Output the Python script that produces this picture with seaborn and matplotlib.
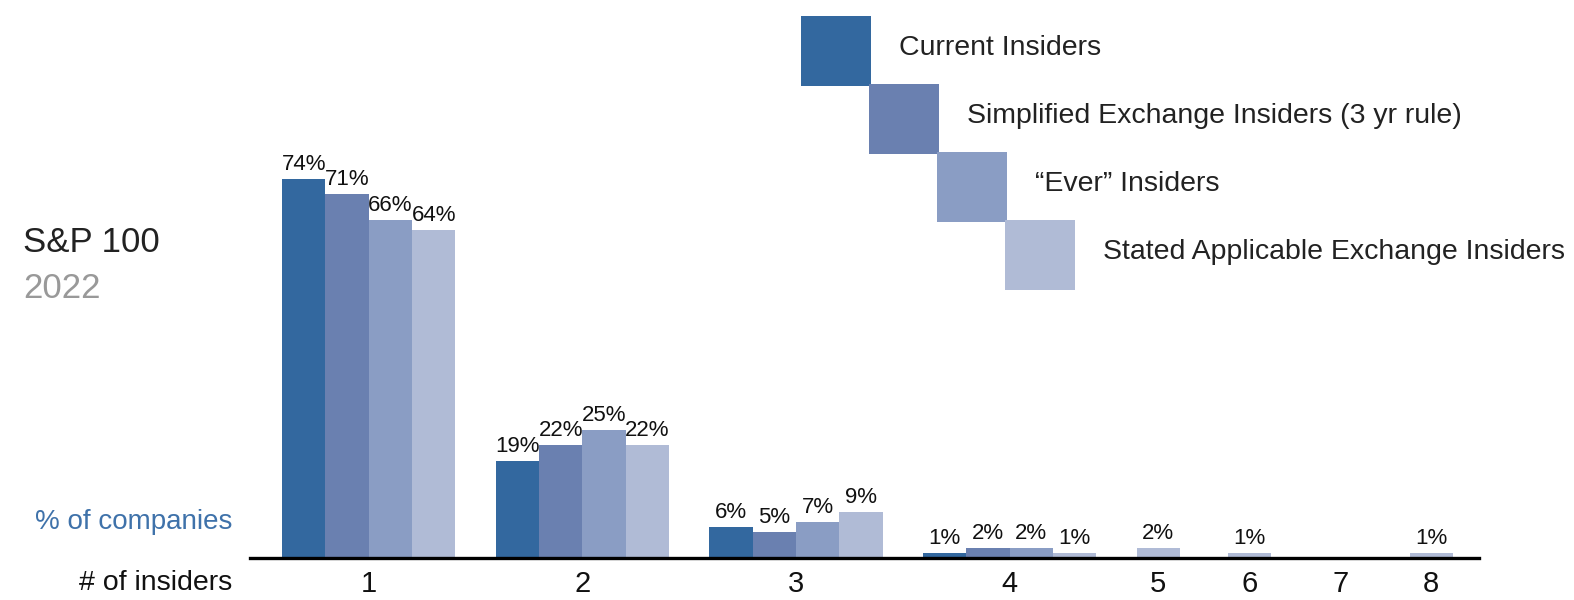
import matplotlib
matplotlib.use("Agg")
import matplotlib.pyplot as plt
from matplotlib.patches import Rectangle
import seaborn as sns
import pandas as pd

# data (% of companies)
groups = ["1", "2", "3", "4", "5", "6", "7", "8"]
series = ["Current Insiders",
          "Simplified Exchange Insiders (3 yr rule)",
          "\u201cEver\u201d Insiders",
          "Stated Applicable Exchange Insiders"]
current = [74, 19, 6, 1, 0, 0, 0, 0]
simplified = [71, 22, 5, 2, 0, 0, 0, 0]
ever = [66, 25, 7, 2, 0, 0, 0, 0]
stated = [64, 22, 9, 1, 2, 1, 0, 1]
colors = ["#33689f", "#6a80b0", "#8a9dc4", "#b0bbd6"]

sns.set_style("white")
plt.rcParams["font.family"] = ["Liberation Sans", "DejaVu Sans"]

# layout: groups with several series get 4 slots, the rest get one slot
rows = []
centers = []
cursor = 0.0
for i, g in enumerate(groups):
    vals = [current[i], simplified[i], ever[i], stated[i]]
    wide = sum(v > 0 for v in vals) > 1
    if wide:
        for k, v in enumerate(vals):
            rows.append({"pos": cursor + k, "value": v, "series": series[k]})
        centers.append(cursor + 1.5)
        last = cursor + 3
        gap = 0.93
    else:
        rows.append({"pos": cursor, "value": vals[3], "series": series[3]})
        centers.append(cursor)
        last = cursor
        gap = 1.1
    cursor = last + 1 + gap
df = pd.DataFrame(rows)

W, H = 1574, 600
fig = plt.figure(figsize=(W / 100, H / 100), dpi=100)
ax = fig.add_axes([250 / W, (H - 558) / H, (1479 - 250) / W, 540 / H])

sns.barplot(data=df, x="pos", y="value", hue="series", hue_order=series,
            palette=colors, saturation=1, native_scale=True, dodge=False,
            width=1.0, errorbar=None, legend=False, ax=ax, linewidth=0)

for cont in ax.containers:
    labels = [f"{v:.0f}%" if v > 0 else "" for v in cont.datavalues]
    ax.bar_label(cont, labels=labels, padding=3, fontsize=16, color="#111111")

ax.set_xlim(df["pos"].min() - 1.24, df["pos"].max() + 1.1)
ax.set_ylim(0, 540 / 5.122)
ax.set_xticks(centers)
ax.set_xticklabels(groups, fontsize=21, color="#111111")
ax.tick_params(axis="x", length=0, pad=9)
ax.set_yticks([])
ax.set_xlabel("")
ax.set_ylabel("")
for s in ["top", "left", "right"]:
    ax.spines[s].set_visible(False)
ax.spines["bottom"].set_linewidth(2.4)
ax.spines["bottom"].set_color("black")


def fx(px):
    return px / W


def fy(py):
    return 1 - py / H


fig.text(fx(23), fy(243), "S&P 100", fontsize=25, color="#222222", va="center", ha="left")
fig.text(fx(23), fy(289), "2022", fontsize=25, color="#999999", va="center", ha="left")
fig.text(fx(232), fy(522), "% of companies", fontsize=20, color="#3f72aa", va="center", ha="right")
fig.text(fx(232), fy(583), "# of insiders", fontsize=20.5, color="#111111", va="center", ha="right")

# staircase legend
for k, (name, c) in enumerate(zip(series, colors)):
    x0 = 801 + 68 * k
    y0 = 16 + 68 * k
    fig.add_artist(Rectangle((fx(x0), fy(y0 + 70)), 70 / W, 70 / H,
                             transform=fig.transFigure, facecolor=c, edgecolor="none"))
    fig.text(fx(x0 + 98), fy(y0 + 32), name, fontsize=20.5, color="#222222",
             va="center", ha="left")

fig.savefig("out.png", dpi=100)
